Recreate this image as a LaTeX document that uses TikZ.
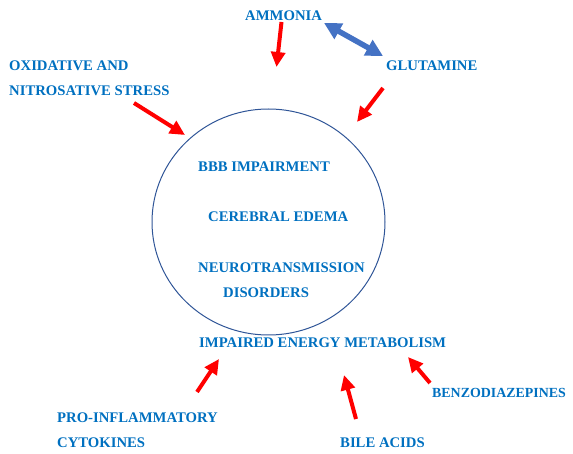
\documentclass[tikz,border=0pt]{standalone}
\usepackage{fontspec}
\setmainfont{Liberation Serif}
\usetikzlibrary{arrows.meta}
\definecolor{txtblue}{RGB}{0,112,192}
\definecolor{ringblue}{RGB}{47,85,151}
\definecolor{dblblue}{RGB}{68,114,196}
\tikzset{%
    lbl/.style={anchor=west,inner sep=0pt,text=txtblue,
      font=\fontsize{14.7pt}{17pt}\selectfont\bfseries},
    redarr/.style={draw=red,line width=4pt,
      -{Triangle[length=15pt,width=14pt]}},
    dblarr/.style={draw=dblblue,line width=5.5pt,
      {Triangle[length=17pt,width=17pt]}-{Triangle[length=17pt,width=17pt]}},
}

\begin{document}
\begin{tikzpicture}[x=1pt,y=-1pt]
 \useasboundingbox (0,0) rectangle (573,454);
 \draw[ringblue,line width=1pt] (268.5,222) ellipse [x radius=116.5,y radius=113];
 % labels
 \node[lbl] (amm) at (245,16) {AMMONIA};
 \node[lbl] (glu) at (386,66) {GLUTAMINE};
 \node[lbl] (ox1) at (9,66) {OXIDATIVE AND};
 \node[lbl] (ox2) at (9,91) {NITROSATIVE STRESS};
 \node[lbl] (bbb) at (198,167) {BBB IMPAIRMENT};
 \node[lbl] (ede) at (208,217) {CEREBRAL EDEMA};
 \node[lbl] (neu) at (198,268) {NEUROTRANSMISSION};
 \node[lbl] (dis) at (223,293) {DISORDERS};
 \node[lbl] (ene) at (199,343) {IMPAIRED ENERGY METABOLISM};
 \node[lbl,font=\fontsize{13.9pt}{17pt}\selectfont\bfseries] (ben) at (432,393) {BENZODIAZEPINES};
 \node[lbl] (pro1) at (57,418) {PRO-INFLAMMATORY};
 \node[lbl] (pro2) at (57,443) {CYTOKINES};
 \node[lbl] (bil) at (340,443) {BILE ACIDS};
 % arrow ends
 \foreach \n/\x/\y in {a1/281.5/22,a2/276.5/67,g1/383/88,g2/357/122,
   o1/134/103,o2/185/135,p1/197/392,p2/219/359,
   b1/356/419,b2/344/375,z1/430/383,z2/408/357,
   d1/324/23,d2/383/56}
 {\coordinate (\n) at (\x,\y);}
 \foreach \s/\t in {a1/a2,g1/g2,o1/o2,p1/p2,b1/b2,z1/z2}
 {\draw[redarr] (\s) -- (\t);}
 \draw[dblarr] (d1) -- (d2);
\end{tikzpicture}
\end{document}
